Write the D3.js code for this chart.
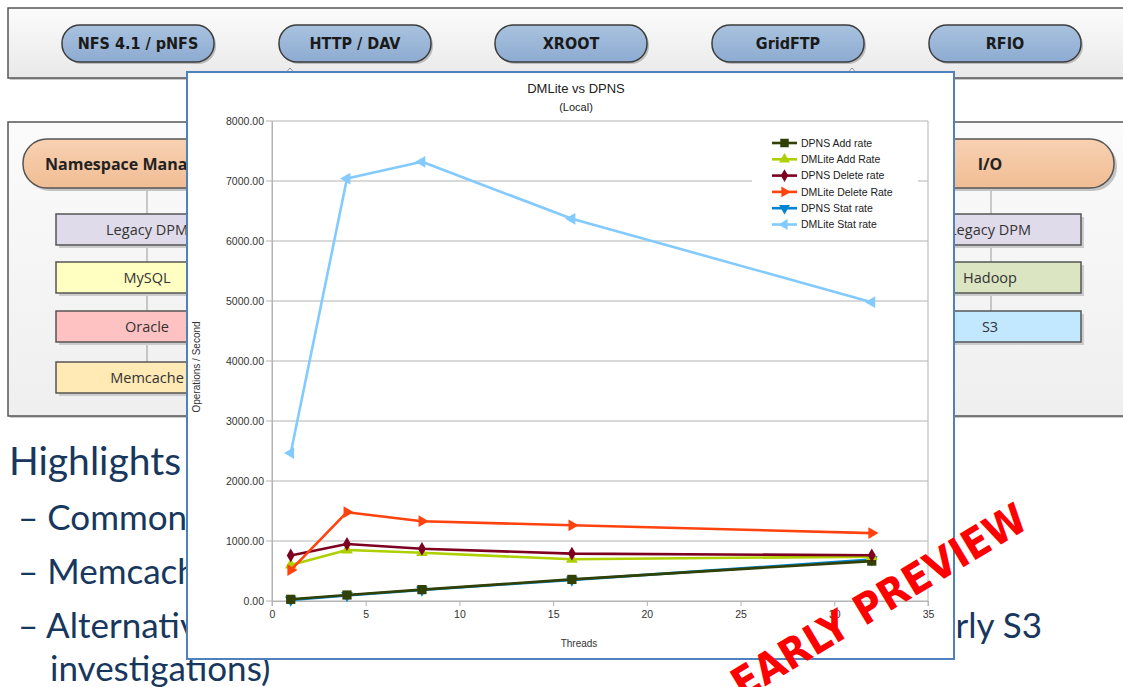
<!DOCTYPE html>
<html>
<head>
<meta charset="utf-8">
<script src="https://cdn.jsdelivr.net/npm/d3@7"></script>
<style>
  body { margin: 0; background: #fff; }
  svg { display: block; }
</style>
</head>
<body>
<div id="slide"></div>
<script>
// chart data
var threads = [1, 4, 8, 16, 32];
var dpnsAdd = [28, 100, 190, 360, 665];
var dmliteAdd = [600, 850, 805, 695, 740];
var dpnsDelete = [760, 950, 870, 790, 762];
var dmliteDelete = [515, 1480, 1330, 1262, 1132];
var dpnsStat = [18, 92, 183, 352, 690];
var dmliteStat = [2465, 7040, 7320, 6370, 4980];

var seriesNames = ["DPNS Add rate", "DMLite Add Rate", "DPNS Delete rate", "DMLite Delete Rate", "DPNS Stat rate", "DMLite Stat rate"];
var yTicks = [0, 1000, 2000, 3000, 4000, 5000, 6000, 7000, 8000];
var xTicks = [0, 5, 10, 15, 20, 25, 30, 35];

// slide texts
var protocols = ["NFS 4.1 / pNFS", "HTTP / DAV", "XROOT", "GridFTP", "RFIO"];
var nsBoxes = ["Legacy DPM", "MySQL", "Oracle", "Memcache"];
var ioBoxes = ["Legacy DPM", "Hadoop", "S3"];

var W = 1123, H = 687;
var svg = d3.select("#slide").append("svg").attr("width", W).attr("height", H);
var defs = svg.append("defs");

function vgrad(id, c1, c2) {
  var g = defs.append("linearGradient").attr("id", id).attr("x1", 0).attr("y1", 0).attr("x2", 0).attr("y2", 1);
  g.append("stop").attr("offset", "0%").attr("stop-color", c1);
  g.append("stop").attr("offset", "100%").attr("stop-color", c2);
}
vgrad("band", "#fbfbfb", "#e9e9e9");
vgrad("panel", "#fbfbfb", "#efefef");
vgrad("pill", "#a9c2df", "#8dabd1");
vgrad("peach", "#f8d1b2", "#f0bd94");

var slideFont = "Lato, 'Open Sans', sans-serif";
var narrowFont = "'Liberation Sans Narrow', 'DejaVu Sans Condensed', sans-serif";

svg.append("rect").attr("width", W).attr("height", H).attr("fill", "#fff");

// top band with protocol pills
svg.append("rect").attr("x", 10).attr("y", 10).attr("width", 1130).attr("height", 70).attr("fill", "#c8c8c8");
svg.append("rect").attr("x", 8).attr("y", 8).attr("width", 1130).attr("height", 70)
  .attr("fill", "url(#band)").attr("stroke", "#555").attr("stroke-width", 1.5);

var pillX = [62, 279, 495, 712, 929];
protocols.forEach(function(p, i) {
  svg.append("rect").attr("x", pillX[i] + 2).attr("y", 27).attr("width", 152).attr("height", 37).attr("rx", 18).attr("fill", "#bbb");
  svg.append("rect").attr("x", pillX[i]).attr("y", 25).attr("width", 152).attr("height", 37).attr("rx", 18)
    .attr("fill", "url(#pill)").attr("stroke", "#3d3d3d").attr("stroke-width", 1.5);
  svg.append("text").attr("x", pillX[i] + 76).attr("y", 49).attr("text-anchor", "middle")
    .attr("font-family", narrowFont).attr("font-weight", "bold").attr("font-size", 16).attr("fill", "#1a1a1a")
    .text(p);
});
[290, 852].forEach(function(x) {
  svg.append("path").attr("d", "M" + (x - 5) + ",74 L" + x + ",68 L" + (x + 5) + ",74")
    .attr("fill", "#fff").attr("stroke", "#888");
});

// second panel
svg.append("rect").attr("x", 10).attr("y", 124).attr("width", 1130).attr("height", 294).attr("fill", "#ccc");
svg.append("rect").attr("x", 8).attr("y", 122).attr("width", 1130).attr("height", 294)
  .attr("fill", "url(#panel)").attr("stroke", "#555").attr("stroke-width", 1.5);

svg.append("line").attr("x1", 147).attr("x2", 147).attr("y1", 188).attr("y2", 362).attr("stroke", "#999");
svg.append("line").attr("x1", 991).attr("x2", 991).attr("y1", 188).attr("y2", 311).attr("stroke", "#999");

function pill(x, y, w, label, tx, anchor) {
  svg.append("rect").attr("x", x + 3).attr("y", y + 3).attr("width", w).attr("height", 49).attr("rx", 24).attr("fill", "#c4c4c4");
  svg.append("rect").attr("x", x).attr("y", y).attr("width", w).attr("height", 49).attr("rx", 24)
    .attr("fill", "url(#peach)").attr("stroke", "#555").attr("stroke-width", 1.5);
  svg.append("text").attr("x", tx).attr("y", y + 31).attr("text-anchor", anchor)
    .attr("font-family", "'Open Sans', sans-serif").attr("font-weight", "bold").attr("font-size", 16).attr("fill", "#222")
    .text(label);
}
pill(23, 139, 249, "Namespace Manager", 45, "start");
pill(866, 139, 248, "I/O", 990, "middle");

var nsFill = ["#e0dbea", "#ffffc2", "#ffc2c2", "#ffe9b4"];
var nsY = [214, 262, 311, 362];
nsBoxes.forEach(function(b, i) {
  svg.append("rect").attr("x", 59).attr("y", nsY[i] + 3).attr("width", 182).attr("height", 31).attr("fill", "#ccc");
  svg.append("rect").attr("x", 56).attr("y", nsY[i]).attr("width", 182).attr("height", 31)
    .attr("fill", nsFill[i]).attr("stroke", "#555").attr("stroke-width", 1.5);
  svg.append("text").attr("x", 147).attr("y", nsY[i] + 21).attr("text-anchor", "middle")
    .attr("font-family", "'Open Sans', sans-serif").attr("font-size", 14.5).attr("fill", "#333").text(b);
});
var ioFill = ["#e0dbea", "#dbe5c2", "#c2e8ff"];
ioBoxes.forEach(function(b, i) {
  svg.append("rect").attr("x", 902).attr("y", nsY[i] + 3).attr("width", 182).attr("height", 31).attr("fill", "#ccc");
  svg.append("rect").attr("x", 899).attr("y", nsY[i]).attr("width", 182).attr("height", 31)
    .attr("fill", ioFill[i]).attr("stroke", "#555").attr("stroke-width", 1.5);
  svg.append("text").attr("x", 990).attr("y", nsY[i] + 21).attr("text-anchor", "middle")
    .attr("font-family", "'Open Sans', sans-serif").attr("font-size", 14.5).attr("fill", "#333").text(b);
});

// slide bullet text (partly hidden behind the chart)
var txtColor = "#17375e";
svg.append("text").attr("x", 9).attr("y", 475).attr("font-family", slideFont).attr("font-size", 39)
  .attr("fill", txtColor).text("Highlights");
[["– Common", 530], ["– Memcache", 584], ["– Alternative", 638]].forEach(function(b) {
  svg.append("text").attr("x", 18).attr("y", b[1]).attr("font-family", slideFont).attr("font-size", 35)
    .attr("fill", txtColor).attr("xml:space", "preserve").text(b[0]);
});
svg.append("text").attr("x", 1042).attr("y", 638).attr("text-anchor", "end").attr("font-family", slideFont)
  .attr("font-size", 35).attr("fill", txtColor).text("early S3");
svg.append("text").attr("x", 50).attr("y", 681).attr("font-family", slideFont).attr("font-size", 35)
  .attr("fill", txtColor).text("investigations)");

// chart panel
svg.append("rect").attr("x", 187).attr("y", 72).attr("width", 767).attr("height", 587)
  .attr("fill", "#fff").attr("stroke", "#4f81bd").attr("stroke-width", 2);

var chartFont = "'Liberation Sans', Arial, sans-serif";
var x = d3.scaleLinear().domain([0, 35]).range([272, 928]);
var y = d3.scaleLinear().domain([0, 8000]).range([601, 121]);

var chart = svg.append("g");

chart.append("g").selectAll("line").data(yTicks).enter().append("line")
  .attr("x1", 266).attr("x2", 928).attr("y1", d => y(d)).attr("y2", d => y(d))
  .attr("stroke", "#b3b3b3").attr("stroke-width", 1);
chart.append("line").attr("x1", 272).attr("x2", 272).attr("y1", 121).attr("y2", 606).attr("stroke", "#b3b3b3");
chart.append("line").attr("x1", 928).attr("x2", 928).attr("y1", 121).attr("y2", 606).attr("stroke", "#b3b3b3");

var yAxis = d3.axisLeft(y).tickValues(yTicks).tickFormat(d3.format(".2f")).tickSize(0).tickPadding(8);
var gy = chart.append("g").attr("transform", "translate(272,0)").call(yAxis);
var xAxis = d3.axisBottom(x).tickValues(xTicks).tickSize(5).tickPadding(5);
var gx = chart.append("g").attr("transform", "translate(0,601)").call(xAxis);
[gx, gy].forEach(function(g) {
  g.select(".domain").attr("stroke", "#b3b3b3");
  g.selectAll(".tick line").attr("stroke", "#b3b3b3");
  g.selectAll("text").attr("font-family", chartFont).attr("font-size", 10.5).attr("fill", "#333");
});

chart.append("text").attr("x", 576).attr("y", 93).attr("text-anchor", "middle")
  .attr("font-family", chartFont).attr("font-size", 13).attr("fill", "#222").text("DMLite vs DPNS");
chart.append("text").attr("x", 576).attr("y", 111).attr("text-anchor", "middle")
  .attr("font-family", chartFont).attr("font-size", 11).attr("fill", "#222").text("(Local)");
chart.append("text").attr("x", 579).attr("y", 647).attr("text-anchor", "middle")
  .attr("font-family", chartFont).attr("font-size", 10).attr("fill", "#333").text("Threads");
chart.append("text").attr("transform", "translate(200,367) rotate(-90)").attr("text-anchor", "middle")
  .attr("font-family", chartFont).attr("font-size", 10).attr("fill", "#333").text("Operations / Second");

var seriesValues = [dpnsAdd, dmliteAdd, dpnsDelete, dmliteDelete, dpnsStat, dmliteStat];
var colors = ["#314004", "#aecf00", "#7e0021", "#ff420e", "#0084d1", "#83caff"];
var symbols = [
  { type: d3.symbolSquare, size: 85, rot: 0 },
  { type: d3.symbolTriangle, size: 60, rot: 0 },
  { type: d3.symbolDiamond, size: 55, rot: 0 },
  { type: d3.symbolTriangle, size: 60, rot: 90 },
  { type: d3.symbolTriangle, size: 60, rot: 180 },
  { type: d3.symbolTriangle, size: 60, rot: -90 }
];

var line = d3.line().x(d => x(d[0])).y(d => y(d[1]));
var drawOrder = [4, 0, 1, 2, 3, 5];
drawOrder.forEach(function(s) {
  var pts = threads.map((t, i) => [t, seriesValues[s][i]]);
  chart.append("path").datum(pts).attr("d", line).attr("fill", "none")
    .attr("stroke", colors[s]).attr("stroke-width", 2.6).attr("stroke-linejoin", "round");
  chart.append("g").selectAll("path").data(pts).enter().append("path")
    .attr("d", d3.symbol().type(symbols[s].type).size(symbols[s].size))
    .attr("transform", d => "translate(" + x(d[0]) + "," + y(d[1]) + ") rotate(" + symbols[s].rot + ")")
    .attr("fill", colors[s]);
});

// legend
var legend = chart.append("g");
legend.append("rect").attr("x", 752).attr("y", 131).attr("width", 166).attr("height", 105).attr("fill", "#fff");
seriesNames.forEach(function(name, i) {
  var ly = 143 + i * 16.3;
  legend.append("line").attr("x1", 772).attr("x2", 797).attr("y1", ly).attr("y2", ly)
    .attr("stroke", colors[i]).attr("stroke-width", 2.6);
  legend.append("path").attr("d", d3.symbol().type(symbols[i].type).size(symbols[i].size * 0.85))
    .attr("transform", "translate(784.5," + ly + ") rotate(" + symbols[i].rot + ")").attr("fill", colors[i]);
  legend.append("text").attr("x", 801).attr("y", ly + 3.8).attr("font-family", chartFont)
    .attr("font-size", 10.5).attr("fill", "#222").text(name);
});

// stamp
svg.append("text").attr("transform", "translate(879,601) rotate(-31)").attr("text-anchor", "middle")
  .attr("dominant-baseline", "central").attr("font-family", narrowFont).attr("font-weight", "bold")
  .attr("font-size", 42).attr("fill", "#ff0000").text("EARLY PREVIEW");
</script>
</body>
</html>
